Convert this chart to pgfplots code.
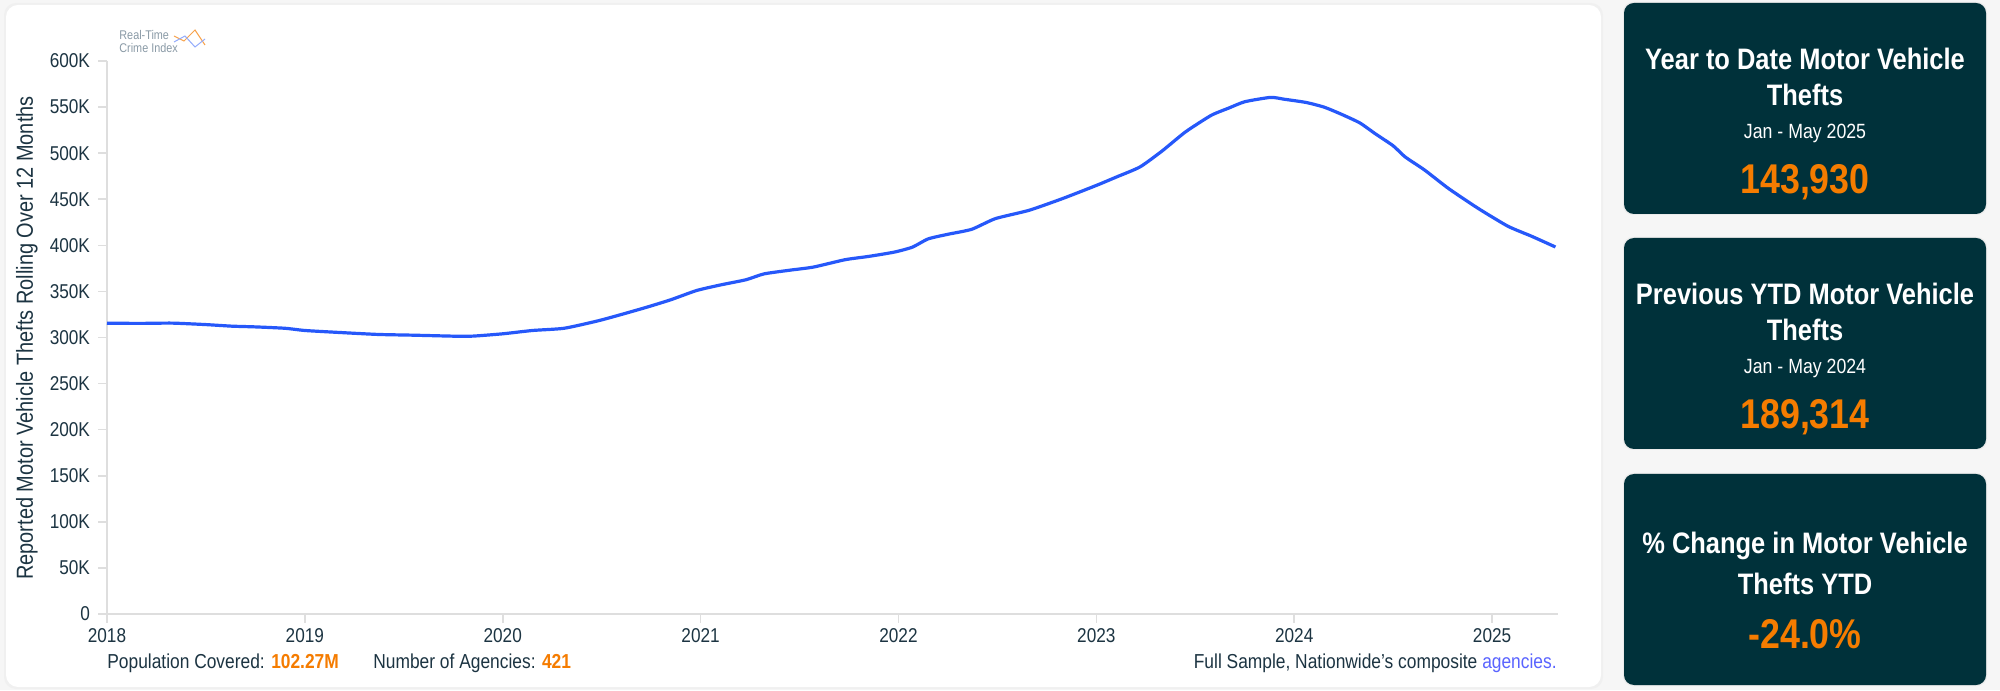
\documentclass[border=0pt]{standalone}
\usepackage{fontspec}
\setmainfont{Liberation Sans}[FakeStretch=0.86]
\usepackage{pgfplots}
\pgfplotsset{compat=1.18}
\usepackage{pgfplotstable}
\definecolor{bgc}{RGB}{246,246,246}
\definecolor{panel}{RGB}{0,49,58}
\definecolor{orng}{RGB}{245,124,0}
\definecolor{linec}{RGB}{38,88,250}
\definecolor{txt}{RGB}{28,52,66}
\definecolor{axc}{RGB}{222,222,222}
\definecolor{logog}{RGB}{138,154,166}
\definecolor{linkc}{RGB}{90,100,255}

\pgfplotstableread{
year val
2018.00 315.5
2018.17 315.3
2018.33 315.6
2018.50 314.0
2018.63 312.3
2018.75 311.5
2018.90 310.0
2019.00 307.6
2019.17 305.5
2019.37 303.3
2019.55 302.5
2019.76 301.4
2019.85 301.5
2020.00 304.0
2020.15 307.6
2020.31 310.0
2020.48 318.0
2020.60 325.0
2020.73 333.0
2020.85 341.0
2020.98 351.0
2021.10 357.0
2021.23 362.7
2021.32 369.0
2021.45 373.0
2021.57 376.4
2021.73 384.4
2021.85 388.0
2021.98 392.7
2022.07 398.0
2022.15 407.0
2022.25 412.0
2022.37 417.4
2022.49 429.0
2022.66 438.0
2022.83 450.8
2023.00 465.0
2023.10 474.0
2023.22 485.0
2023.33 502.0
2023.45 523.0
2023.58 541.0
2023.67 549.0
2023.75 555.8
2023.88 560.5
2023.95 558.5
2024.06 555.0
2024.15 550.0
2024.23 543.0
2024.33 533.0
2024.41 521.0
2024.50 508.0
2024.56 496.0
2024.66 481.5
2024.78 461.6
2024.93 440.0
2025.08 420.7
2025.20 409.8
2025.32 398.2
}\thefts

\begin{document}
\begin{tikzpicture}[x=0.5pt,y=0.5pt]
% background and bounding box
\fill[bgc] (0,0) rectangle (2000,690);
\useasboundingbox (0,0) rectangle (2000,690);
% chart card
\fill[black!6,rounded corners=6pt] (4,1) rectangle (1603,687);
\fill[white,rounded corners=6pt] (6,3) rectangle (1601,685);

% logo
\node[anchor=west,font=\fontsize{6.3}{6.5}\selectfont,text=logog,inner sep=0pt,align=left] at (119,690-42) {Real-Time\\Crime Index};
\draw[orng!70,line width=0.5pt] (174,690-36) -- (184,690-41) -- (195,690-30) -- (205,690-45);
\draw[linec!50,line width=0.5pt] (174,690-42) -- (185,690-36) -- (195,690-47) -- (205,690-39);

\begin{axis}[
  at={(53.5pt,38pt)}, anchor=south west,
  scale only axis,
  width=725.5pt, height=276.5pt,
  xmin=2018, xmax=2025.333,
  ymin=0, ymax=600,
  axis x line=bottom, axis y line=left,
  axis line style={axc,line width=0.8pt,-},
  xtick={2018,2019,2020,2021,2022,2023,2024,2025},
  xticklabels={2018,2019,2020,2021,2022,2023,2024,2025},
  ytick={0,50,100,150,200,250,300,350,400,450,500,550,600},
  yticklabels={0,50K,100K,150K,200K,250K,300K,350K,400K,450K,500K,550K,600K},
  tick align=outside,
  major tick length=4.5pt,
  tick style={axc,line width=0.8pt},
  ticklabel style={font=\fontsize{10}{11}\selectfont,text=txt},
  /pgf/number format/assume math mode=true,
  yticklabel style={xshift=-0.5pt},
  xticklabel style={yshift=1pt},
  clip=false,
]
\addplot[linec,line width=1.6pt,line join=round,smooth,tension=0.35] table[x=year,y=val] {\thefts};
\end{axis}

% y label
\node[rotate=90,font=\fontsize{11.6}{12}\selectfont,text=txt] at (27,690-338) {Reported Motor Vehicle Thefts Rolling Over 12 Months};

% bottom notes
\node[anchor=west,font=\fontsize{10.1}{11}\selectfont,text=txt,inner sep=0pt] at (107,690-663) {Population Covered: \textcolor{orng}{\textbf{102.27M}}};
\node[anchor=west,font=\fontsize{10.1}{11}\selectfont,text=txt,inner sep=0pt] at (373,690-663) {Number of Agencies: \textcolor{orng}{\textbf{421}}};
\node[anchor=east,font=\fontsize{10.1}{11}\selectfont,text=txt,inner sep=0pt] at (1557,690-663) {Full Sample, Nationwide's composite \textcolor{linkc}{agencies.}};

% panels
\foreach \top/\la/\lb/\sub/\num in {3/Year to Date Motor Vehicle/Thefts/Jan - May 2025/143{,}930, 238/Previous YTD Motor Vehicle/Thefts/Jan - May 2024/189{,}314}{
  \fill[black!8,rounded corners=5pt] (1623,690-\top+1) rectangle (1987,690-\top-212);
  \fill[panel,rounded corners=5pt] (1624,690-\top) rectangle (1986,690-\top-211);
  \node[text=white,font=\fontsize{14.8}{15}\selectfont\bfseries] at (1805,690-\top-56) {\la};
  \node[text=white,font=\fontsize{14.8}{15}\selectfont\bfseries] at (1805,690-\top-92) {\lb};
  \node[text=white,font=\fontsize{10.3}{11}\selectfont] at (1805,690-\top-130) {\sub};
  \node[text=orng,font=\fontsize{20.8}{22}\selectfont\bfseries] at (1805,690-\top-179) {\num};
}
\fill[black!8,rounded corners=5pt] (1623,690-473) rectangle (1987,690-686);
\fill[panel,rounded corners=5pt] (1624,690-474) rectangle (1986,690-685);
\node[text=white,font=\fontsize{14.8}{15}\selectfont\bfseries] at (1805,690-546) {\% Change in Motor Vehicle};
\node[text=white,font=\fontsize{14.8}{15}\selectfont\bfseries] at (1805,690-584) {Thefts YTD};
\node[text=orng,font=\fontsize{20.8}{22}\selectfont\bfseries] at (1805,690-634) {-24.0\%};
\end{tikzpicture}
\end{document}
